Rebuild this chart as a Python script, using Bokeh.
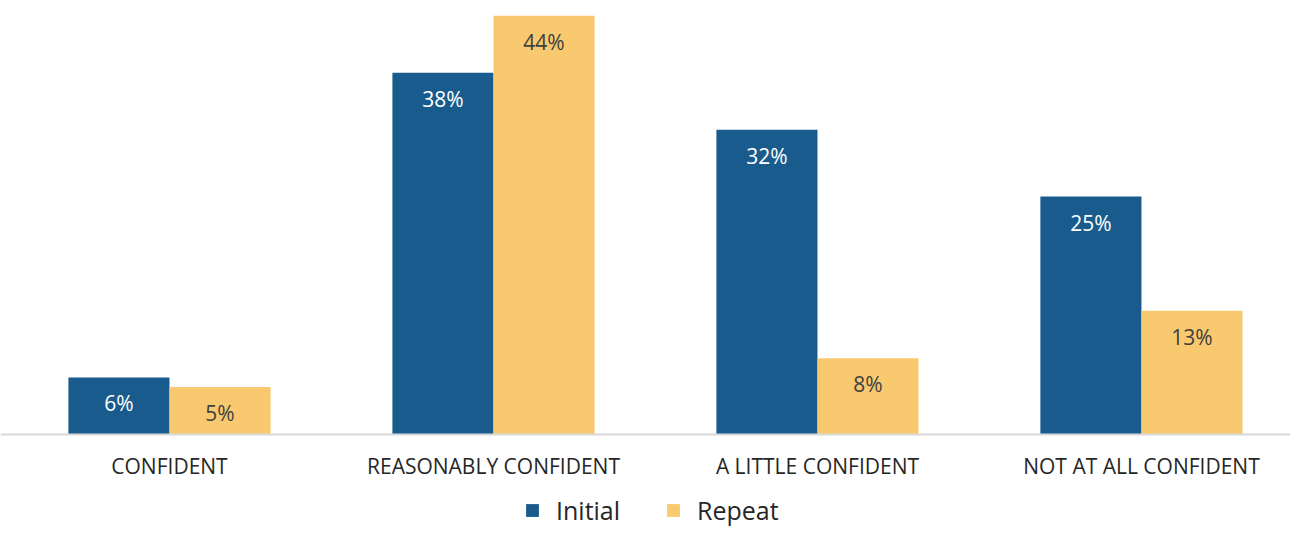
from bokeh.plotting import figure
from bokeh.models import ColumnDataSource, Range1d, FixedTicker, Legend, LegendItem
from bokeh.core.properties import value
from bokeh.embed import file_html
from bokeh.resources import INLINE

categories = ["CONFIDENT", "REASONABLY CONFIDENT", "A LITTLE CONFIDENT", "NOT AT ALL CONFIDENT"]
initial = [6, 38, 32, 25]
repeat = [5, 44, 8, 13]
series_names = ["Initial", "Repeat"]

BLUE = "#195b8d"
YELLOW = "#f9c96f"
FONT = "Open Sans"

xs = list(range(len(categories)))
bw = 0.312
src_i = ColumnDataSource(dict(x=[x - bw / 2 for x in xs], v=initial, t=[f"{v}%" for v in initial]))
src_r = ColumnDataSource(dict(x=[x + bw / 2 for x in xs], v=repeat, t=[f"{v}%" for v in repeat]))

p = figure(frame_width=1290, frame_height=529, output_backend="svg", toolbar_location=None,
           x_range=Range1d(-0.5216, 3.460), y_range=Range1d(-9.98, 45.59),
           min_border_left=0, min_border_right=0, min_border_top=0, min_border_bottom=0)
p.outline_line_color = None
p.grid.visible = False
p.yaxis.visible = False

r1 = p.vbar(x="x", top="v", width=bw, source=src_i, fill_color=BLUE, line_color=None)
r2 = p.vbar(x="x", top="v", width=bw, source=src_r, fill_color=YELLOW, line_color=None)

p.text(x="x", y="v", text="t", source=src_i, text_align="center", text_baseline="middle",
       y_offset=26, text_color="#ffffff", text_font=value(FONT), text_font_size="21px")
p.text(x="x", y="v", text="t", source=src_r, text_align="center", text_baseline="middle",
       y_offset=26, text_color="#404040", text_font=value(FONT), text_font_size="21px")

ax = p.xaxis[0]
ax.fixed_location = 0
ax.ticker = FixedTicker(ticks=xs)
ax.major_label_overrides = {i: c for i, c in enumerate(categories)}
ax.major_tick_line_color = None
ax.minor_tick_line_color = None
ax.major_tick_out = 0
ax.major_tick_in = 0
ax.axis_line_color = "#d9d9d9"
ax.axis_line_width = 2
ax.major_label_standoff = 18
ax.major_label_text_font = FONT
ax.major_label_text_font_size = "21px"
ax.major_label_text_color = "#262626"

legend = Legend(items=[LegendItem(label=series_names[0], renderers=[r1]),
                       LegendItem(label=series_names[1], renderers=[r2])],
                orientation="horizontal", location=(524, 2),
                glyph_width=16, glyph_height=16, label_text_font=FONT,
                label_text_font_size="25px", label_text_color="#262626",
                spacing=45, label_standoff=16, border_line_color=None,
                background_fill_alpha=0, padding=0, margin=0)
p.add_layout(legend)

open("out.html", "w").write(file_html(p, INLINE))
